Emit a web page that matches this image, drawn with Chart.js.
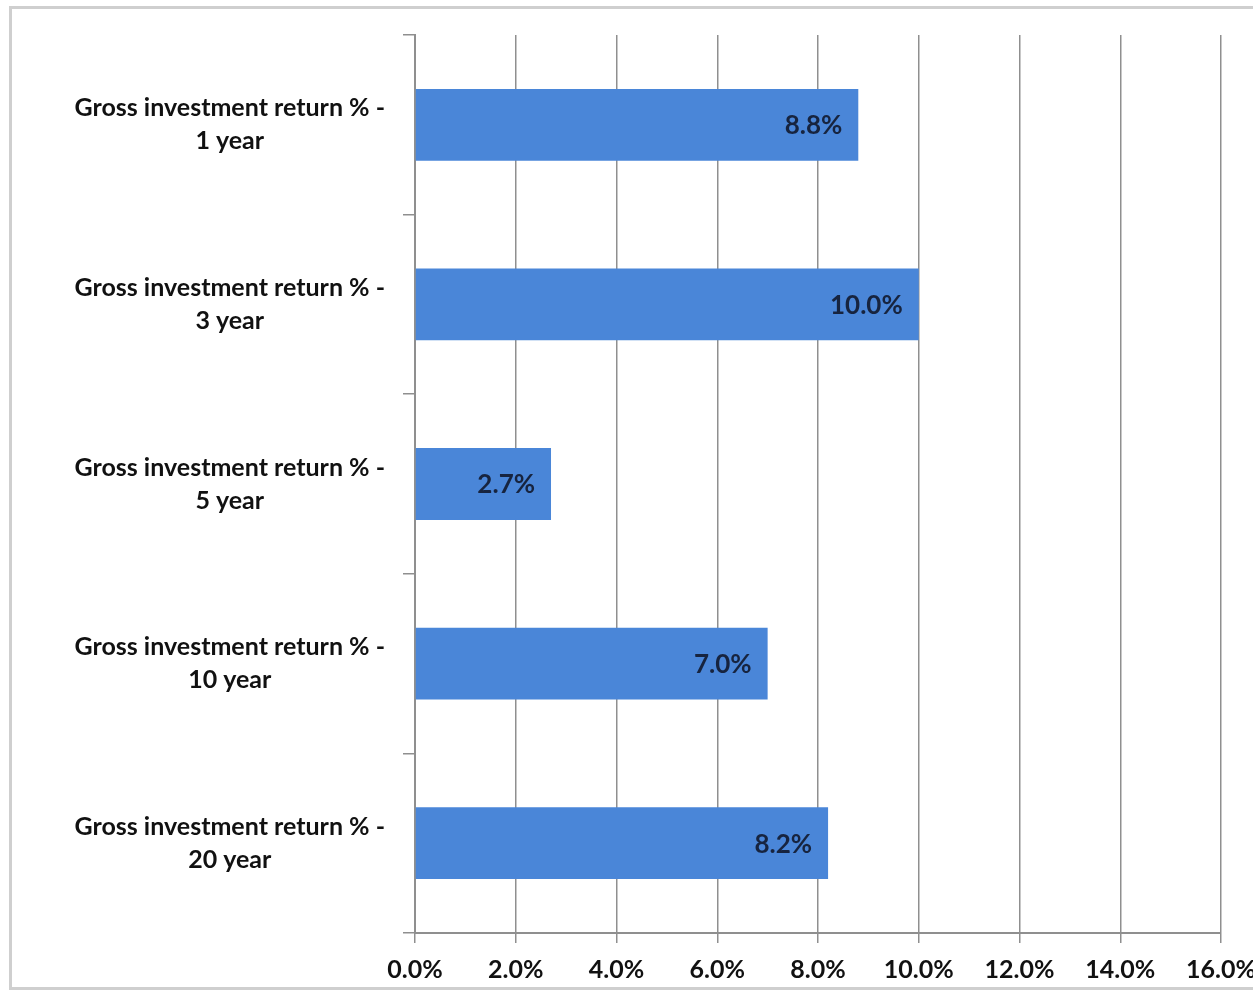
<!DOCTYPE html>
<html>
<head>
<meta charset="utf-8">
<script src="https://cdn.jsdelivr.net/npm/chart.js@4/dist/chart.umd.min.js"></script>
<style>
  html, body { margin: 0; padding: 0; background: #ffffff; overflow: hidden; }
  #frame { position: absolute; left: 9px; top: 6px; width: 1300px; height: 984px; border: 3px solid #cfcfcf; box-sizing: border-box; }
  #wrap { position: absolute; left: 0; top: 0; width: 1253px; height: 995px; }
</style>
</head>
<body>
<div id="frame"></div>
<div id="wrap"><canvas id="c" width="1253" height="995"></canvas></div>
<script>
const categories = [
  ["Gross investment return % -", "1 year"],
  ["Gross investment return % -", "3 year"],
  ["Gross investment return % -", "5 year"],
  ["Gross investment return % -", "10 year"],
  ["Gross investment return % -", "20 year"]
];
const returnValues = [8.8, 10.0, 2.7, 7.0, 8.2];
const xTickMin = 0;
const xTickMax = 16;
const xTickStep = 2;

const FONT = "Lato, 'Open Sans', sans-serif";

const valueLabels = {
  id: 'valueLabels',
  afterDatasetsDraw(chart) {
    const ctx = chart.ctx;
    const meta = chart.getDatasetMeta(0);
    ctx.save();
    ctx.font = "bold 26px " + FONT;
    ctx.fillStyle = '#17243f';
    ctx.textAlign = 'right';
    ctx.textBaseline = 'middle';
    meta.data.forEach((bar, i) => {
      ctx.fillText(returnValues[i].toFixed(1) + '%', bar.x - 16, bar.y + 1);
    });
    ctx.restore();
  }
};

new Chart(document.getElementById('c'), {
  type: 'bar',
  data: {
    labels: categories,
    datasets: [{
      data: returnValues,
      backgroundColor: '#4a86d8',
      borderWidth: 0,
      barPercentage: 0.4,
      categoryPercentage: 1.0
    }]
  },
  options: {
    indexAxis: 'y',
    responsive: false,
    animation: false,
    devicePixelRatio: 1,
    layout: { padding: { left: 0, top: 35, right: 0, bottom: 0 } },
    plugins: { legend: { display: false }, tooltip: { enabled: false } },
    scales: {
      x: {
        min: xTickMin,
        max: xTickMax,
        ticks: {
          stepSize: xTickStep,
          color: '#111111',
          font: { family: FONT, size: 25, weight: 'bold' },
          padding: 12,
          maxRotation: 0,
          callback: (v) => Number(v).toFixed(1) + '%'
        },
        grid: { color: '#8f8f8f', lineWidth: 1.5, tickLength: 10, drawTicks: true },
        border: { color: '#8f8f8f', width: 2 },
        afterFit(scale) { scale.height = 62; scale.paddingLeft = 0; scale.paddingRight = 32; }
      },
      y: {
        ticks: {
          color: '#111111',
          font: { family: FONT, size: 25, weight: 'bold', lineHeight: 1.32 },
          crossAlign: 'center',
          padding: 18
        },
        grid: { drawOnChartArea: false, drawTicks: true, tickLength: 12, color: '#8f8f8f', lineWidth: 1.5, offset: true },
        border: { color: '#8f8f8f', width: 2 },
        afterFit(scale) { scale.width = 415; scale.paddingTop = 0; scale.paddingBottom = 0; }
      }
    }
  },
  plugins: [valueLabels]
});
</script>
</body>
</html>
